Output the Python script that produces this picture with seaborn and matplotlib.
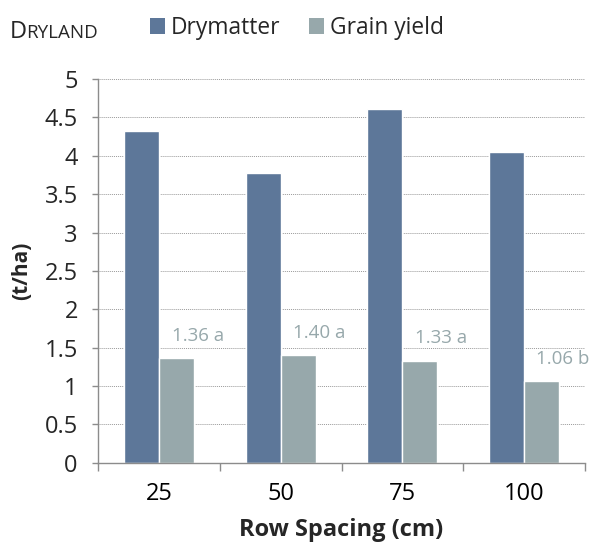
import matplotlib
matplotlib.use("Agg")
import matplotlib.pyplot as plt
import seaborn as sns
import pandas as pd
from matplotlib.patches import Patch
from matplotlib.ticker import FixedLocator

categories = ["25", "50", "75", "100"]
drymatter = [4.32, 3.78, 4.61, 4.05]
grain_yield = [1.36, 1.40, 1.33, 1.06]
grain_labels = ["1.36 a", "1.40 a", "1.33 a", "1.06 b"]
series = ["Drymatter", "Grain yield"]
yticks = [0, 0.5, 1, 1.5, 2, 2.5, 3, 3.5, 4, 4.5, 5]
ytick_labels = ["0", "0.5", "1", "1.5", "2", "2.5", "3", "3.5", "4", "4.5", "5"]

sns.set_theme(style="white")
plt.rcParams["font.family"] = ["Open Sans", "DejaVu Sans"]

df = pd.DataFrame({
    "Row Spacing": categories * 2,
    "value": drymatter + grain_yield,
    "series": [series[0]] * 4 + [series[1]] * 4,
})

c_dry = "#5D7799"
c_grain = "#97A8AB"
c_axis = "#8c8c8c"
fig = plt.figure(figsize=(5.94, 5.49), dpi=100)
ax = fig.add_axes([0.165, 0.157, 0.82, 0.699])
sns.barplot(data=df, x="Row Spacing", y="value", hue="series",
            palette=[c_dry, c_grain], width=0.575, ax=ax, legend=False,
            saturation=1, order=categories)

ax.set_xlim(-0.5, 3.5)
ax.set_ylim(0, 5)
ax.set_yticks(yticks)
ax.set_yticklabels(ytick_labels)
ax.grid(axis="y", linestyle=(0, (1, 1)), color="#9a9a9a", linewidth=0.7)
ax.set_axisbelow(True)

for s in ["top", "right"]:
    ax.spines[s].set_visible(False)
for s in ["left", "bottom"]:
    ax.spines[s].set_color(c_axis)
    ax.spines[s].set_linewidth(1.0)

ax.tick_params(axis="x", which="major", length=0, labelsize=17, pad=14, colors="#000000")
ax.xaxis.set_minor_locator(FixedLocator([-0.5, 0.5, 1.5, 2.5, 3.5]))
ax.tick_params(axis="x", which="minor", length=5.8, width=1, color=c_axis, bottom=True, direction="out")
ax.tick_params(axis="y", which="major", length=4.5, width=1, color=c_axis, left=True,
               labelsize=17, pad=10)

ax.set_xlabel("Row Spacing (cm)", fontsize=17, fontweight="bold")
ax.xaxis.set_label_coords(0.5, -0.145)
ax.set_ylabel("(t/ha)", fontsize=15, fontweight="bold")
ax.yaxis.set_label_coords(-0.135, 0.5)

for i, (v, lab) in enumerate(zip(grain_yield, grain_labels)):
    ax.text(i + 0.32, v + 0.23, lab, ha="center", va="baseline", fontsize=13.5,
            color=c_grain, clip_on=False)

fig.text(0.0168, 1 - 38 / 549, "D", fontsize=17, ha="left", va="baseline")
fig.text(0.0445, 1 - 38 / 549, "RYLAND", fontsize=13.5, ha="left", va="baseline")

handles = [Patch(facecolor=c_dry, edgecolor="none"), Patch(facecolor=c_grain, edgecolor="none")]
fig.legend(handles, series, loc="center left", bbox_to_anchor=(150 / 594, 1 - 28 / 549), ncol=2,
           frameon=False, fontsize=16.4, handlelength=0.66, handleheight=0.66,
           handletextpad=0.26, columnspacing=1.27, borderaxespad=0, borderpad=0)

fig.savefig("out.png", dpi=100)
